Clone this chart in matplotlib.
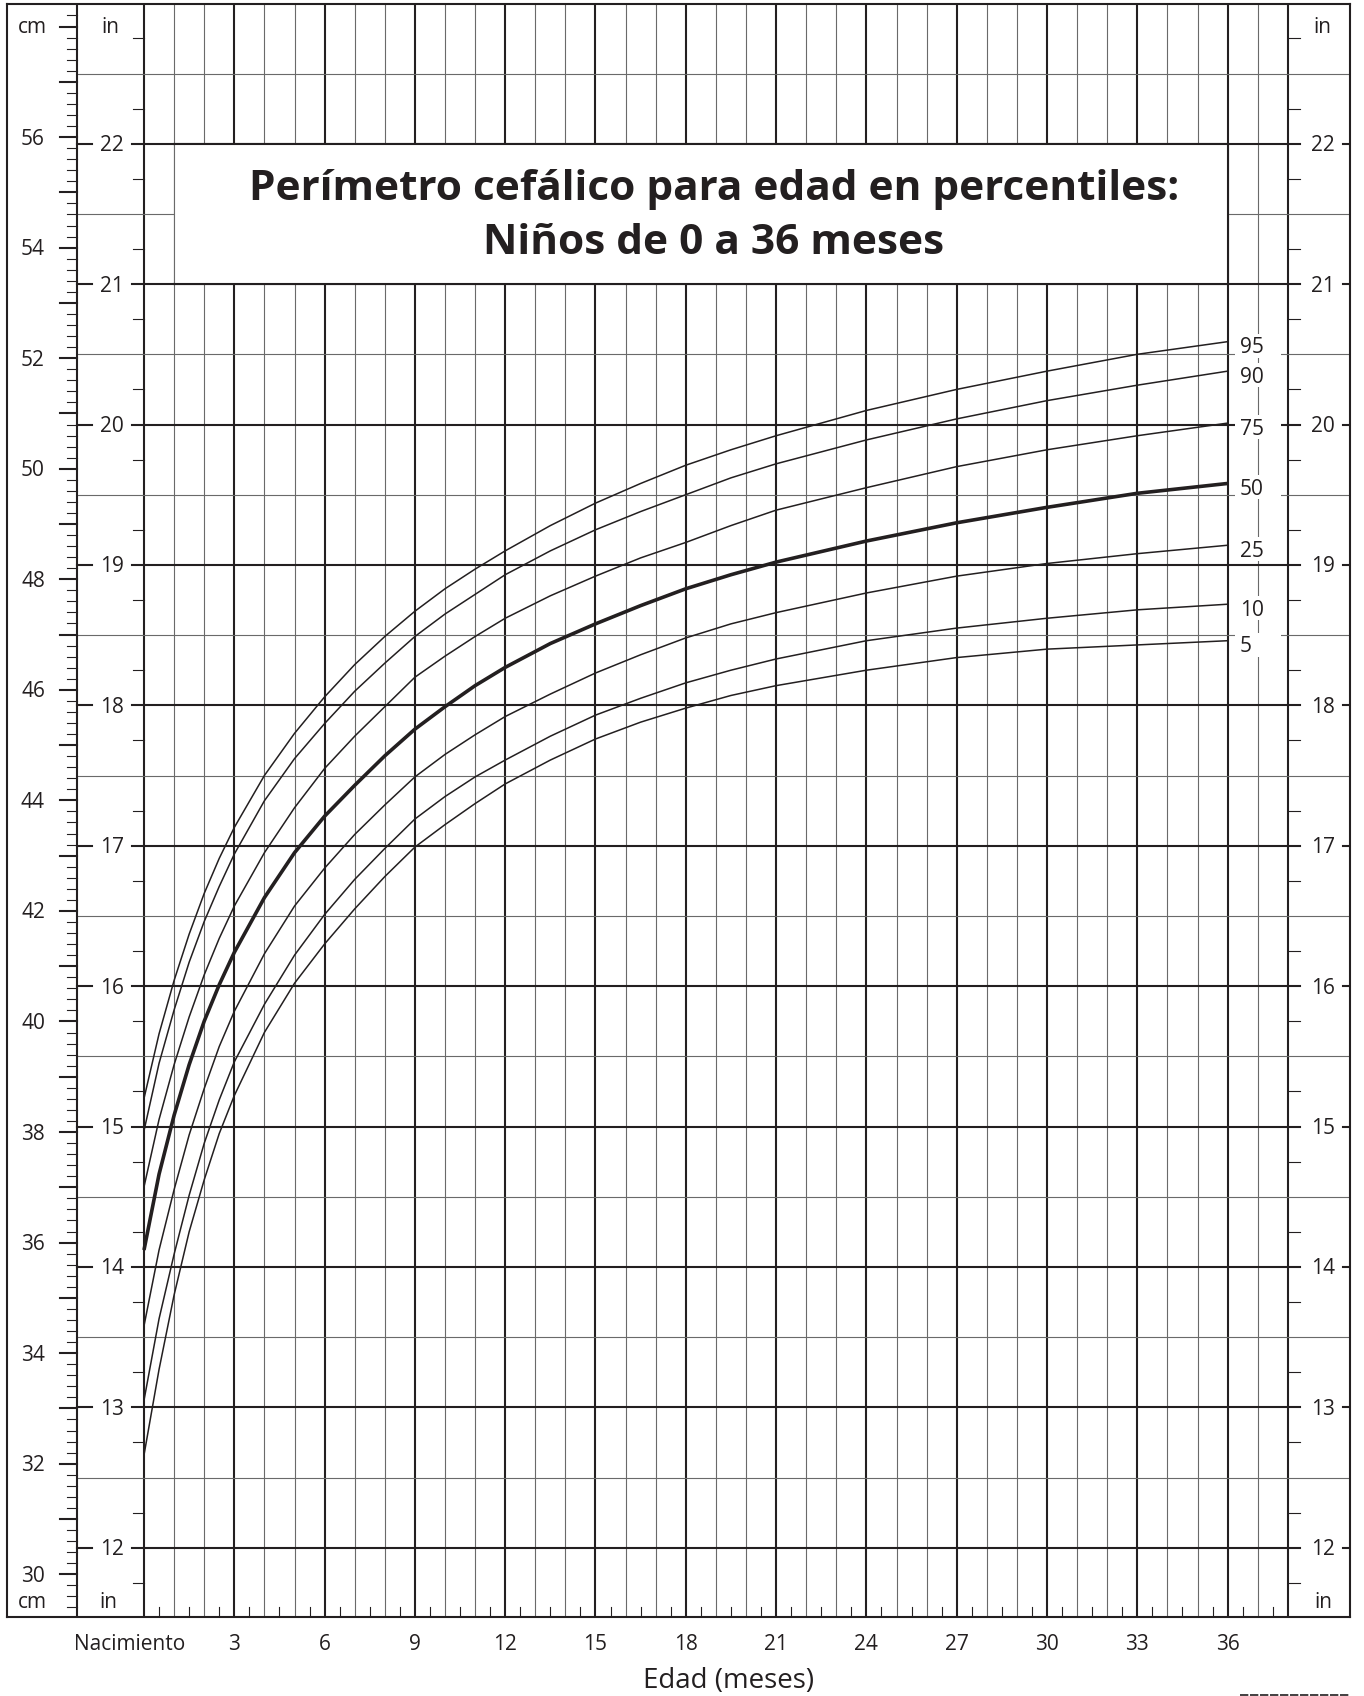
import numpy as np
import matplotlib
matplotlib.use('Agg')
import matplotlib.pyplot as plt
from matplotlib.lines import Line2D
from matplotlib.patches import Rectangle

plt.rcParams['font.family'] = ['Open Sans', 'DejaVu Sans']

# Head circumference percentiles (inches)
months = [0, 0.5, 1, 1.5, 2, 2.5, 3, 4, 5, 6, 7, 8, 9, 10, 11, 12,
          13.5, 15, 16.5, 18, 19.5, 21, 24, 27, 30, 33, 36]
p95 = [15.20, 15.66, 16.04, 16.37, 16.66, 16.91, 17.13, 17.50, 17.80, 18.06, 18.29, 18.49, 18.67, 18.83,
       18.97, 19.10, 19.28, 19.44, 19.58, 19.71, 19.82, 19.92, 20.10, 20.25, 20.38, 20.50, 20.59]
p90 = [14.97, 15.45, 15.83, 16.17, 16.46, 16.71, 16.94, 17.32, 17.62, 17.87, 18.10, 18.30, 18.49, 18.65,
       18.79, 18.93, 19.10, 19.25, 19.38, 19.50, 19.62, 19.72, 19.89, 20.04, 20.17, 20.28, 20.38]
p75 = [14.57, 15.05, 15.44, 15.78, 16.08, 16.34, 16.57, 16.95, 17.27, 17.55, 17.78, 17.99, 18.20, 18.35,
       18.49, 18.62, 18.78, 18.92, 19.05, 19.16, 19.28, 19.39, 19.55, 19.70, 19.82, 19.92, 20.01]
p50 = [14.12, 14.66, 15.08, 15.44, 15.75, 16.01, 16.24, 16.63, 16.95, 17.21, 17.43, 17.64, 17.83, 17.99,
       18.14, 18.27, 18.44, 18.58, 18.71, 18.83, 18.93, 19.02, 19.17, 19.30, 19.41, 19.51, 19.58]
p25 = [13.58, 14.12, 14.55, 14.94, 15.27, 15.57, 15.82, 16.23, 16.57, 16.84, 17.08, 17.29, 17.49, 17.65,
       17.79, 17.92, 18.08, 18.23, 18.36, 18.48, 18.58, 18.66, 18.80, 18.92, 19.01, 19.08, 19.14]
p10 = [13.05, 13.63, 14.09, 14.51, 14.88, 15.19, 15.46, 15.87, 16.22, 16.51, 16.76, 16.98, 17.19, 17.35,
       17.49, 17.61, 17.78, 17.93, 18.05, 18.16, 18.25, 18.33, 18.46, 18.55, 18.62, 18.68, 18.72]
p5 = [12.66, 13.27, 13.80, 14.25, 14.62, 14.95, 15.22, 15.67, 16.02, 16.30, 16.55, 16.78, 16.99, 17.15,
      17.30, 17.44, 17.61, 17.76, 17.88, 17.98, 18.07, 18.14, 18.25, 18.34, 18.40, 18.43, 18.46]
curves = [p95, p90, p75, p50, p25, p10, p5]
pct_labels = ['95', '90', '75', '50', '25', '10', '5']

age_ticks = list(range(3, 37, 3))
inch_ticks = list(range(12, 23))
cm_labels = list(range(30, 57, 2))

title1 = 'Perímetro cefálico para edad en percentiles:'
title2 = 'Niños de 0 a 36 meses'
xlabel = 'Edad (meses)'

W, H = 1364, 1696
fig = plt.figure(figsize=(W / 100, H / 100), dpi=100)

# pixel geometry of the sheet
X0, PXM = 144, 30.1      # px of month 0, px per month
Y12, PXI = 1547.7, 140.4  # px of 12 in, px per inch
L, R, T, B = 7, 1350, 4, 1617


def mx(px):
    return (px - X0) / PXM


def iy(py):
    return 12 + (Y12 - py) / PXI


DARK = '#231f20'
THIN = '#6a6a6a'
TLW, GLW = 1.5, 0.8

ax = fig.add_axes([L / W, 1 - B / H, (R - L) / W, (B - T) / H])
ax.set_xlim(mx(L), mx(R))
ax.set_ylim(iy(B), iy(T))
ax.set_xticks([])
ax.set_yticks([])
for s in ax.spines.values():
    s.set_linewidth(1.5)
    s.set_color(DARK)

ybot, ytop = iy(B), iy(T)

# vertical grid, one line per month
for m in range(0, 39):
    thick = m % 3 == 0 or m == 38
    ax.plot([m, m], [ybot, ytop], color=DARK if thick else THIN,
            lw=TLW if thick else GLW, zorder=1, solid_capstyle='butt')

# half-month ticks on the bottom
for m in range(0, 38):
    ax.plot([m + 0.5, m + 0.5], [ybot, iy(1607)], color=DARK, lw=GLW, zorder=1)

# half inch lines
for k in range(12, 23):
    ax.plot([mx(77), mx(R)], [k + 0.5, k + 0.5], color=THIN, lw=GLW, zorder=1)

# whole inch lines with labels on both sides
for k in inch_ticks:
    ax.plot([mx(132), mx(1300)], [k, k], color=DARK, lw=TLW, zorder=1)
    ax.plot([mx(77), mx(92)], [k, k], color=DARK, lw=TLW, zorder=1)
    ax.plot([mx(1343), mx(R)], [k, k], color=DARK, lw=TLW, zorder=1)
    yb = k - 7.5 / PXI
    ax.text(mx(112), yb, str(k), ha='center', va='baseline', fontsize=15, color=DARK)
    ax.text(mx(1323), yb, str(k), ha='center', va='baseline', fontsize=15, color=DARK)

# quarter inch ticks
for q in np.arange(11.75, 23, 0.5):
    ax.plot([mx(133), 0], [q, q], color=DARK, lw=GLW, zorder=1)
    ax.plot([38, mx(1300)], [q, q], color=DARK, lw=GLW, zorder=1)

# cm scale
ax.plot([mx(77), mx(77)], [ybot, ytop], color=DARK, lw=TLW, zorder=1)
for i in range(147, 292):
    c = i * 0.2
    y = c / 2.54
    if y < ybot or y > ytop:
        continue
    whole = i % 5 == 0
    ax.plot([mx(60 if whole else 67), mx(77)], [y, y], color=DARK,
            lw=TLW if whole else GLW, zorder=1)
for c in cm_labels:
    ax.text(mx(45), c / 2.54 - 7.5 / PXI, str(c), ha='right', va='baseline',
            fontsize=15, color=DARK)

ax.text(mx(32), iy(27), 'cm', ha='center', va='center', fontsize=15, color=DARK)
ax.text(mx(32), iy(1602), 'cm', ha='center', va='center', fontsize=15, color=DARK)
for xp, yp in [(110, 27), (1322, 27), (108, 1602), (1323, 1602)]:
    ax.text(mx(xp), iy(yp), 'in', ha='center', va='center', fontsize=15, color=DARK)

# title box
ax.add_patch(Rectangle((1, 21), 35, 1, facecolor='white', edgecolor='none', zorder=2))
ax.plot([1, 1], [21, 22], color=THIN, lw=GLW, zorder=3)
ax.plot([36, 36], [21, 22], color=DARK, lw=TLW, zorder=3)
ax.plot([1, 36], [22, 22], color=DARK, lw=TLW, zorder=3)
ax.plot([1, 36], [21, 21], color=DARK, lw=TLW, zorder=3)
ax.text(mx(714), iy(200), title1, ha='center', va='baseline', fontsize=30.5,
        fontweight='bold', color=DARK, zorder=4)
ax.text(mx(714), iy(254), title2, ha='center', va='baseline', fontsize=30.5,
        fontweight='bold', color=DARK, zorder=4)

# percentile curves
for vals, lab in zip(curves, pct_labels):
    ax.plot(months, vals, color=DARK, lw=2.6 if lab == '50' else 1.1,
            zorder=5, solid_joinstyle='round', solid_capstyle='butt')
    yc = vals[-1] - 4 / PXI
    ax.add_patch(Rectangle((mx(1235), yc - 12 / PXI), 46 / PXM, 24 / PXI,
                           facecolor='white', edgecolor='none', zorder=4))
    ax.text(mx(1240), yc - 7.5 / PXI, lab, ha='left', va='baseline',
            fontsize=15, color=DARK, zorder=6)

# age axis labels
ax.text(mx(130), iy(1650), 'Nacimiento', ha='center', va='baseline',
        fontsize=15, color=DARK, clip_on=False)
for m in age_ticks:
    ax.text(m, iy(1650), str(m), ha='center', va='baseline', fontsize=15,
            color=DARK, clip_on=False)
ax.text(mx(729), iy(1688), xlabel, ha='center', va='baseline', fontsize=20,
        color=DARK, clip_on=False)

# cut-off mark at the bottom right corner
fig.add_artist(Line2D([1240 / W, 1350 / W], [1 - 1694.5 / H] * 2, color=DARK,
                      lw=1.2, linestyle=(0, (5, 1))))

fig.savefig('out.png', dpi=100)
